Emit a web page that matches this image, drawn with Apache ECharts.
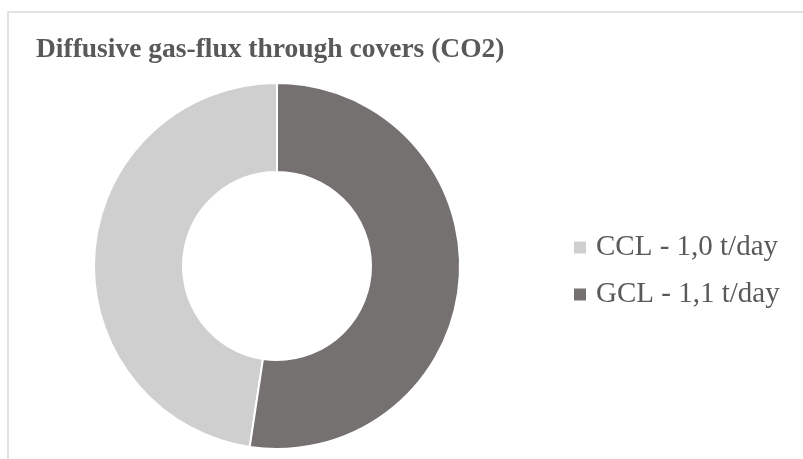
<!DOCTYPE html>
<html>
<head>
<meta charset="utf-8">
<script src="https://cdn.jsdelivr.net/npm/echarts@6/dist/echarts.min.js"></script>
<style>
  html, body { margin: 0; padding: 0; background: #fff; }
  #chart { width: 803px; height: 459px; }
</style>
</head>
<body>
<div id="chart"></div>
<script>
// covers and their CO2 flux (t/day)
var categories = ['CCL', 'GCL'];
var fluxValues = [1.0, 1.1];
var legendLabels = ['CCL - 1,0 t/day', 'GCL - 1,1 t/day'];
var sliceColors = ['#d0cfd0', '#767171'];

var chart = echarts.init(document.getElementById('chart'));

var pieData = categories.map(function (c, i) {
  return { name: legendLabels[i], value: fluxValues[i], itemStyle: { color: sliceColors[i] } };
});

var option = {
  backgroundColor: '#fff',
  animation: false,
  title: {
    text: 'Diffusive gas-flux through covers (CO2)',
    left: 31,
    top: 31,
    textStyle: {
      fontFamily: 'Liberation Serif',
      fontWeight: 'bold',
      fontSize: 27.5,
      color: '#595959'
    }
  },
  legend: {
    orient: 'vertical',
    left: 567,
    top: 228,
    itemWidth: 14,
    itemHeight: 14,
    itemGap: 18,
    icon: 'rect',
    data: legendLabels,
    textStyle: {
      fontFamily: 'Liberation Serif',
      fontSize: 29,
      lineHeight: 29,
      color: '#595959',
      padding: [0, 0, 0, 4]
    }
  },
  graphic: [{
    type: 'rect',
    silent: true,
    z: -1,
    shape: { x: 8, y: 12, width: 900, height: 600 },
    style: { fill: 'none', stroke: '#d9d9d9', lineWidth: 1.5 }
  }],
  series: [{
    type: 'pie',
    center: [277, 266],
    radius: [94, 183],
    startAngle: 90,
    clockwise: false,
    label: { show: false },
    labelLine: { show: false },
    itemStyle: { borderColor: '#fff', borderWidth: 2 },
    emphasis: { disabled: true },
    data: pieData
  }]
};

chart.setOption(option);
</script>
</body>
</html>
